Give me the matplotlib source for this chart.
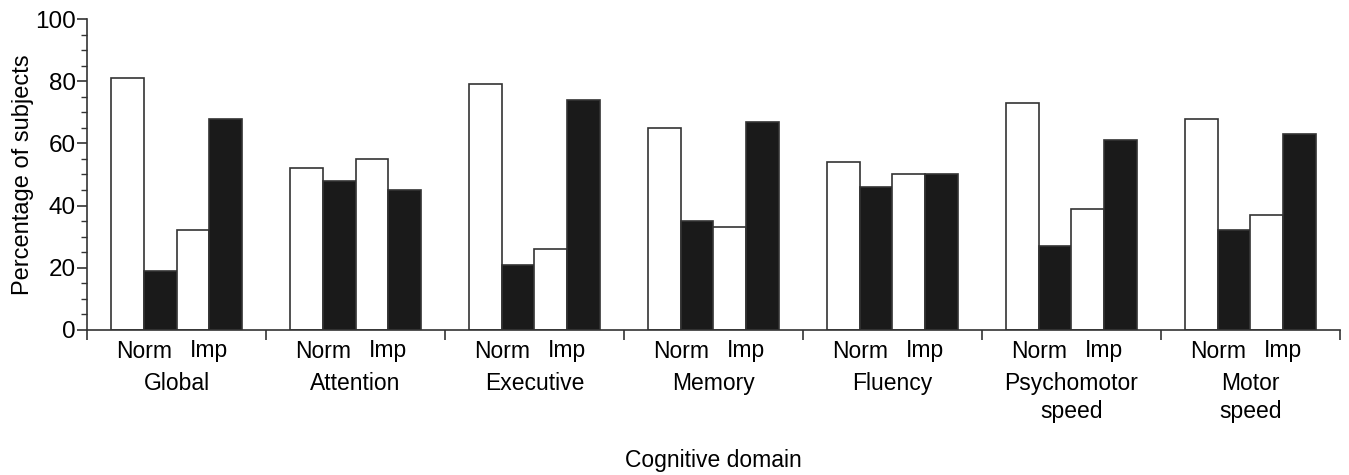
import matplotlib
matplotlib.use("Agg")
import matplotlib.pyplot as plt
from matplotlib.ticker import MultipleLocator
import matplotlib.transforms as mtransforms

plt.rcParams['font.family'] = ['Liberation Sans', 'DejaVu Sans']

domains = ["Global", "Attention", "Executive", "Memory", "Fluency", "Psychomotor\nspeed", "Motor\nspeed"]
norm_white = [81, 52, 79, 65, 54, 73, 68]
norm_black = [19, 48, 21, 35, 46, 27, 32]
imp_white = [32, 55, 26, 33, 50, 39, 37]
imp_black = [68, 45, 74, 67, 50, 61, 63]
sub_labels = ["Norm", "Imp"]
yticks = [0, 20, 40, 60, 80, 100]

fig = plt.figure(figsize=(13.49, 4.75), dpi=100)
ax = fig.add_axes([0.0645, 0.3053, 0.9288, 0.6547])

w = 0.183
off = 0.134
series = [(norm_white, 'white'), (norm_black, '#1a1a1a'), (imp_white, 'white'), (imp_black, '#1a1a1a')]
for k, (vals, col) in enumerate(series):
    xs = [g + off + w * (k + 0.5) for g in range(len(domains))]
    ax.bar(xs, vals, width=w, color=col, edgecolor='#333333', linewidth=1.2, zorder=2)

ax.set_xlim(0, len(domains))
ax.set_ylim(0, 100)
ax.set_yticks(yticks)
ax.yaxis.set_minor_locator(MultipleLocator(5))
ax.set_xticks(range(len(domains) + 1))
ax.set_xticklabels([])
for s in ['top', 'right']:
    ax.spines[s].set_visible(False)
for s in ['left', 'bottom']:
    ax.spines[s].set_color('#333333')
    ax.spines[s].set_linewidth(1.2)
ax.tick_params(axis='y', which='major', direction='out', length=7, width=1.2, color='#333333', labelsize=17.5, pad=1)
ax.tick_params(axis='y', which='minor', direction='out', length=4, width=1.0, color='#333333')
ax.tick_params(axis='x', which='major', direction='out', length=7, width=1.2, color='#333333')
ax.set_ylabel("Percentage of subjects", fontsize=17, labelpad=1)

trans = mtransforms.blended_transform_factory(ax.transData, fig.transFigure)
fs = 16.5
for g, name in enumerate(domains):
    ax.text(g + off + w, 1 - 351 / 475, sub_labels[0], transform=trans, ha='center', va='center', fontsize=fs)
    ax.text(g + off + 3 * w, 1 - 351 / 475, sub_labels[1], transform=trans, ha='center', va='center', fontsize=fs)
    ax.text(g + 0.5, 1 - 372 / 475, name, transform=trans, ha='center', va='top', fontsize=fs, linespacing=1.3)

fig.text((87 + 1340) / 2 / 1349, 1 - 460 / 475, "Cognitive domain", ha='center', va='center', fontsize=fs)

fig.savefig("out.png", dpi=100)
